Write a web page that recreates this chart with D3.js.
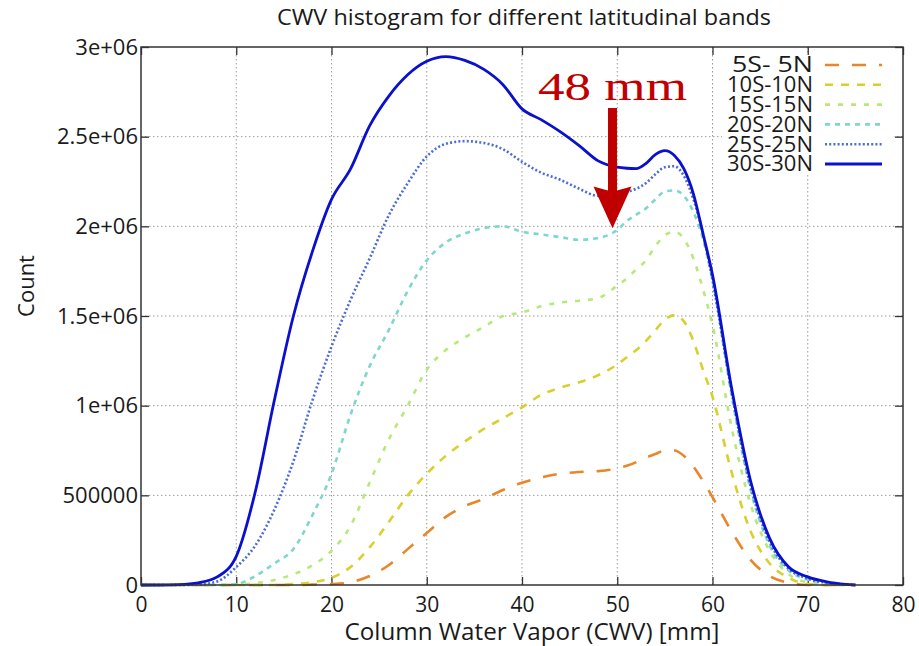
<!DOCTYPE html>
<html><head><meta charset="utf-8">
<script src="https://cdn.jsdelivr.net/npm/d3@7"></script>
<style>
body{margin:0;background:#fff;}
svg text{fill:#1a1a1a;}
</style></head>
<body><svg id="chart" width="919" height="646" font-family="Open Sans, sans-serif"></svg>
<script>
// ---- data ----
const cwv = [0,2,4,6,8,10,12,14,16,18,20,22,24,26,28,30,32,34,36,38,40,42,44,46,48,50,51,52,53,54,55,56,57,58,59,60,62,64,66,68,70,72,74,75];
const band5  = [0,0,0,0,0,0,0,0,0,0.002,0.005,0.015,0.05,0.11,0.20,0.29,0.38,0.44,0.48,0.53,0.57,0.60,0.62,0.63,0.635,0.65,0.665,0.685,0.71,0.73,0.75,0.75,0.72,0.66,0.58,0.49,0.30,0.14,0.05,0.012,0,0,0,0];
const band10 = [0,0,0,0,0,0,0,0,0.005,0.015,0.04,0.10,0.21,0.35,0.50,0.62,0.72,0.80,0.87,0.93,0.99,1.06,1.10,1.13,1.17,1.23,1.27,1.31,1.36,1.42,1.48,1.505,1.47,1.36,1.20,1.05,0.63,0.30,0.12,0.04,0.005,0,0,0];
const band15 = [0,0,0,0,0,0.002,0.01,0.028,0.06,0.11,0.19,0.33,0.57,0.81,1.0,1.2,1.31,1.38,1.44,1.50,1.52,1.555,1.575,1.585,1.60,1.67,1.71,1.76,1.81,1.89,1.95,1.97,1.93,1.82,1.65,1.45,0.88,0.45,0.19,0.06,0.015,0.003,0,0];
const band20 = [0,0,0,0,0,0.005,0.05,0.12,0.20,0.39,0.62,0.95,1.22,1.42,1.64,1.81,1.91,1.96,1.99,2.0,1.97,1.955,1.94,1.925,1.935,1.98,2.03,2.065,2.10,2.15,2.195,2.2,2.17,2.08,1.93,1.70,1.06,0.53,0.22,0.08,0.03,0.01,0.002,0];
const band25 = [0,0,0,0.003,0.02,0.10,0.22,0.42,0.69,1.03,1.33,1.59,1.82,2.06,2.24,2.39,2.46,2.475,2.465,2.43,2.36,2.30,2.26,2.21,2.17,2.17,2.19,2.21,2.24,2.29,2.33,2.335,2.28,2.15,1.96,1.70,1.08,0.55,0.24,0.09,0.035,0.012,0.003,0];
const band30 = [0,0,0.002,0.012,0.045,0.16,0.52,1.03,1.50,1.86,2.15,2.32,2.56,2.725,2.845,2.92,2.946,2.925,2.875,2.79,2.655,2.595,2.528,2.45,2.365,2.33,2.324,2.322,2.35,2.40,2.422,2.395,2.32,2.18,1.96,1.73,1.10,0.58,0.26,0.10,0.045,0.018,0.004,0];
const seriesNames = ["5S- 5N","10S-10N","15S-15N","20S-20N","25S-25N","30S-30N"];
const seriesValues = [band5,band10,band15,band20,band25,band30];
const xTicks = [0,10,20,30,40,50,60,70,80];
const yTicks = [0,500000,1000000,1500000,2000000,2500000,3000000];
const yTickLabels = ["0","500000","1e+06","1.5e+06","2e+06","2.5e+06","3e+06"];
const annotationCWV = 49.5;
const annotationText = "48 mm";

// ---- styles ----
const colors = ["#e8862a","#d8d02e","#b6e97a","#7ed6cd","#4a6cd4","#0a10cc"];
const dashes = ["14,13","8,8","5,8","5,5","2,2.2",null];
const widths = [2.6,2.6,2.6,2.6,2.6,2.8];

const svg = d3.select("#chart");
const L=141,R=903,T=47,B=585;
const x = d3.scaleLinear().domain([0,80]).range([L,R]);
const y = d3.scaleLinear().domain([0,3000000]).range([B,T]);

// grid
const grid = svg.append("g").attr("stroke","#9a9a9a").attr("stroke-width",1).attr("stroke-dasharray","1.5,2.5");
xTicks.slice(1,-1).forEach(t=>grid.append("line").attr("x1",x(t)).attr("x2",x(t)).attr("y1",T).attr("y2",B));
yTicks.slice(1,-1).forEach(t=>grid.append("line").attr("x1",L).attr("x2",R).attr("y1",y(t)).attr("y2",y(t)));

// axes (inward ticks all sides)
const tl=8;
const axB = svg.append("g").attr("transform",`translate(0,${B})`)
  .call(d3.axisBottom(x).tickValues(xTicks).tickSizeInner(-tl).tickSizeOuter(0).tickPadding(tl+4).tickFormat(d3.format("d")));
const axT = svg.append("g").attr("transform",`translate(0,${T})`)
  .call(d3.axisTop(x).tickValues(xTicks).tickSizeInner(-tl).tickSizeOuter(0).tickFormat(""));
const axL = svg.append("g").attr("transform",`translate(${L},0)`)
  .call(d3.axisLeft(y).tickValues(yTicks).tickSizeInner(-tl).tickSizeOuter(0).tickPadding(3).tickFormat((d,i)=>yTickLabels[i]));
const axR = svg.append("g").attr("transform",`translate(${R},0)`)
  .call(d3.axisRight(y).tickValues(yTicks).tickSizeInner(-tl).tickSizeOuter(0).tickFormat(""));
[axB,axT,axL,axR].forEach(a=>{a.attr("font-family",null);a.select(".domain").remove();a.selectAll("line").attr("stroke","#333").attr("stroke-width",1.3);});
axB.selectAll("text").attr("font-size",21).style("font-family","Open Sans, sans-serif").style("fill","#1a1a1a");
axL.selectAll("text").attr("font-size",22).style("font-family","Open Sans, sans-serif").style("fill","#1a1a1a");

// lines
const line = d3.line().x((d,i)=>x(cwv[i])).y(d=>y(d*1e6)).curve(d3.curveMonotoneX);
seriesValues.forEach((vals,k)=>{
  svg.append("path").datum(vals).attr("d",line).attr("fill","none")
    .attr("stroke",colors[k]).attr("stroke-width",widths[k])
    .attr("stroke-dasharray",dashes[k]).attr("stroke-linejoin","round");
});

// frame
svg.append("rect").attr("x",L).attr("y",T).attr("width",R-L).attr("height",B-T)
  .attr("fill","none").attr("stroke","#333").attr("stroke-width",1.5);

// legend
const lg = svg.append("g");
lg.append("rect").attr("x",722).attr("y",55).attr("width",172).attr("height",118).attr("fill","#fff");
seriesNames.forEach((n,k)=>{
  const yy = 65 + k*19.8;
  lg.append("text").attr("x",813).attr("y",yy).attr("dy","0.35em").attr("text-anchor","end")
    .attr("font-size",21).attr("textLength",n.length===6?81:86).attr("lengthAdjust","spacingAndGlyphs").text(n);
  lg.append("line").attr("x1",825).attr("x2",882).attr("y1",yy).attr("y2",yy)
    .attr("stroke",colors[k]).attr("stroke-width",widths[k]).attr("stroke-dasharray",dashes[k]);
});

// annotation arrow
const ax = x(annotationCWV);
const yTop = y(2660000), yHead = y(2200000), yTip = y(1990000);
svg.append("path").attr("fill","#c00000")
  .attr("d",`M${ax-4.5},${yTop}L${ax+4.5},${yTop}L${ax+4.5},${yHead}L${ax+19},${yHead-4}L${ax},${yTip}L${ax-19},${yHead-4}L${ax-4.5},${yHead}Z`);
svg.append("text").attr("x",ax).attr("y",y(2705000)).attr("text-anchor","middle")
  .style("font-family","'Liberation Serif', 'DejaVu Serif', serif").attr("font-size",41).attr("textLength",149)
  .attr("lengthAdjust","spacingAndGlyphs").style("fill","#c00000").text(annotationText);

// titles
svg.append("text").attr("x",524).attr("y",25).attr("text-anchor","middle").attr("font-size",22)
  .attr("textLength",494).attr("lengthAdjust","spacingAndGlyphs")
  .text("CWV histogram for different latitudinal bands");
svg.append("text").attr("x",532).attr("y",640).attr("text-anchor","middle").attr("font-size",23)
  .attr("textLength",375).attr("lengthAdjust","spacingAndGlyphs")
  .text("Column Water Vapor (CWV) [mm]");
svg.append("text").attr("transform","translate(34,286) rotate(-90)").attr("text-anchor","middle").attr("font-size",22)
  .text("Count");
</script></body></html>
